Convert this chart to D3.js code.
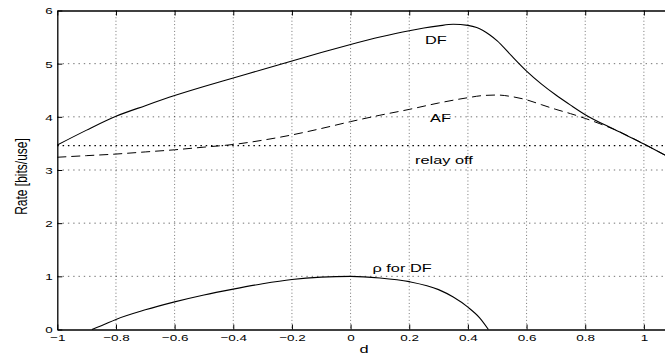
<!DOCTYPE html>
<html>
<head>
<meta charset="utf-8">
<script src="https://cdn.jsdelivr.net/npm/d3@7"></script>
<style>
  html, body { margin: 0; padding: 0; background: #fff; }
  svg { display: block; font-family: "Liberation Sans", Arial, Helvetica, sans-serif; }
</style>
</head>
<body>
<svg id="chart" width="665" height="358"></svg>
<script>
// Achievable rates versus relay position d
const xTicks = [-1, -0.8, -0.6, -0.4, -0.2, 0, 0.2, 0.4, 0.6, 0.8, 1];
const xTickLabels = ["\u22121", "\u22120.8", "\u22120.6", "\u22120.4", "\u22120.2", "0", "0.2", "0.4", "0.6", "0.8", "1"];
const yTicks = [0, 1, 2, 3, 4, 5, 6];

// decode-and-forward rate
const dfD    = [-1, -0.9, -0.8, -0.7, -0.6, -0.5, -0.4, -0.3, -0.2, -0.1, 0, 0.1, 0.2, 0.25, 0.3, 0.35, 0.4, 0.43, 0.45, 0.475, 0.5, 0.55, 0.6, 0.65, 0.7, 0.75, 0.8, 0.9, 1.0, 1.072];
const dfRate = [3.47, 3.75, 4.01, 4.21, 4.40, 4.57, 4.73, 4.89, 5.05, 5.21, 5.36, 5.50, 5.62, 5.67, 5.71, 5.74, 5.72, 5.68, 5.63, 5.54, 5.43, 5.14, 4.86, 4.62, 4.41, 4.22, 4.04, 3.76, 3.49, 3.28];

// amplify-and-forward rate
const afD    = [-1, -0.9, -0.8, -0.7, -0.6, -0.5, -0.4, -0.3, -0.2, -0.1, 0, 0.1, 0.2, 0.3, 0.4, 0.45, 0.5, 0.55, 0.6, 0.65, 0.7, 0.75, 0.8, 0.85, 0.9, 1.0, 1.072];
const afRate = [3.24, 3.27, 3.30, 3.34, 3.38, 3.43, 3.48, 3.56, 3.66, 3.78, 3.91, 4.03, 4.14, 4.26, 4.36, 4.40, 4.41, 4.38, 4.32, 4.23, 4.14, 4.06, 3.97, 3.87, 3.76, 3.49, 3.28];

// direct transmission (relay off)
const relayOffRate = 3.46;

// optimal correlation rho for DF
const rhoD   = [-0.882, -0.85, -0.8, -0.7, -0.6, -0.5, -0.4, -0.3, -0.2, -0.1, 0, 0.1, 0.2, 0.3, 0.35, 0.4, 0.44, 0.47];
const rhoVal = [0, 0.07, 0.19, 0.37, 0.52, 0.65, 0.76, 0.86, 0.94, 0.985, 1.0, 0.97, 0.90, 0.75, 0.61, 0.42, 0.22, 0];

const svg = d3.select("#chart");
const plotLeft = 57.3, plotRight = 665, plotTop = 10.5, plotBottom = 329.5;
const stretch = 1.42;   // glyphs are drawn wider than tall

const x = d3.scaleLinear().domain([-1, 1.072]).range([plotLeft, plotRight]);
const y = d3.scaleLinear().domain([0, 6]).range([plotBottom, plotTop]);

// dotted grid
const grid = svg.append("g")
  .attr("stroke", "#000").attr("stroke-opacity", 0.55).attr("stroke-width", 1);
grid.selectAll("line.gx").data(xTicks.slice(1)).join("line")
  .attr("class", "gx").attr("stroke-dasharray", "1,2.4")
  .attr("x1", d => x(d)).attr("x2", d => x(d))
  .attr("y1", plotTop).attr("y2", plotBottom);
grid.selectAll("line.gy").data(yTicks.slice(1, -1)).join("line")
  .attr("class", "gy").attr("stroke-dasharray", "1.4,3.9")
  .attr("x1", plotLeft).attr("x2", plotRight)
  .attr("y1", d => y(d)).attr("y2", d => y(d));

// axes
const xAxis = d3.axisBottom(x).tickValues(xTicks)
  .tickFormat((d, i) => xTickLabels[i]).tickSizeInner(-5).tickSizeOuter(0).tickPadding(0);
const gx = svg.append("g").attr("transform", `translate(0,${plotBottom})`).call(xAxis);
gx.select(".domain").attr("stroke-width", 1.3);
gx.selectAll(".tick text")
  .attr("y", 12).attr("dy", null)
  .attr("font-size", 9.5).attr("fill", "#000")
  .attr("font-family", "Liberation Sans, Arial, sans-serif")
  .attr("transform", `scale(${stretch},1)`);

const xTop = d3.axisTop(x).tickValues(xTicks).tickFormat("").tickSizeInner(-5).tickSizeOuter(0);
svg.append("g").attr("transform", `translate(0,${plotTop})`).call(xTop)
  .select(".domain").attr("stroke-width", 1.3);

const yAxis = d3.axisLeft(y).tickValues(yTicks).tickFormat(d3.format("d"))
  .tickSizeInner(-5).tickSizeOuter(0);
const gy = svg.append("g").attr("transform", `translate(${plotLeft},0)`).call(yAxis);
gy.select(".domain").attr("stroke-width", 1.3);
gy.selectAll(".tick text")
  .attr("x", -4.5 / stretch).attr("dy", "0.36em")
  .attr("font-size", 9.5).attr("fill", "#000")
  .attr("font-family", "Liberation Sans, Arial, sans-serif")
  .attr("transform", `scale(${stretch},1)`);

// relay off reference line
svg.append("line")
  .attr("x1", plotLeft).attr("x2", plotRight)
  .attr("y1", y(relayOffRate)).attr("y2", y(relayOffRate))
  .attr("stroke", "#000").attr("stroke-width", 1.3).attr("stroke-dasharray", "1.5,3.8");

const line = d3.line().x(d => x(d[0])).y(d => y(d[1])).curve(d3.curveMonotoneX);

svg.append("path").datum(d3.zip(afD, afRate))
  .attr("d", line).attr("fill", "none").attr("stroke", "#000")
  .attr("stroke-width", 1).attr("stroke-dasharray", "9,5");

svg.append("path").datum(d3.zip(dfD, dfRate))
  .attr("d", line).attr("fill", "none").attr("stroke", "#000").attr("stroke-width", 1.1);

svg.append("path").datum(d3.zip(rhoD, rhoVal))
  .attr("d", line).attr("fill", "none").attr("stroke", "#000").attr("stroke-width", 1.1);

// curve labels
const labels = [
  { t: "DF", x: 425, y: 43.5 },
  { t: "AF", x: 430, y: 121.5 },
  { t: "relay off", x: 415, y: 163.5 },
  { t: "\u03c1 for DF", x: 372.5, y: 271.5 }
];
svg.selectAll("text.lbl").data(labels).join("text")
  .attr("class", "lbl")
  .attr("transform", d => `translate(${d.x},${d.y}) scale(${stretch},1)`)
  .attr("font-size", 11.5).attr("fill", "#000")
  .text(d => d.t);

// axis titles
svg.append("text")
  .attr("transform", `translate(364,353) scale(${stretch},1)`)
  .attr("text-anchor", "middle").attr("font-size", 11.5).text("d");
svg.append("text")
  .attr("transform", `translate(27,176.5) rotate(-90) scale(1,${stretch})`)
  .attr("text-anchor", "middle").attr("font-size", 12).text("Rate [bits/use]");
</script>
</body>
</html>
